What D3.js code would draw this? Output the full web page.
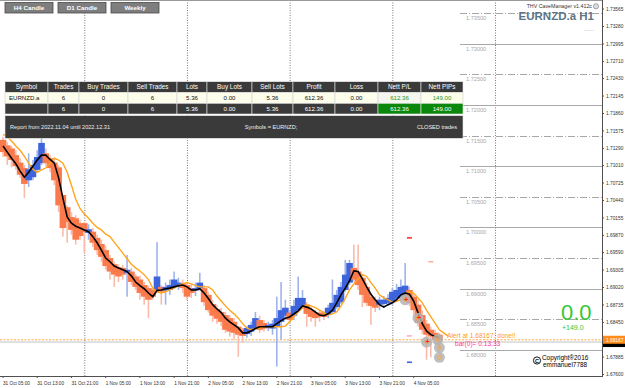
<!DOCTYPE html>
<html>
<head>
<meta charset="utf-8">
<script src="https://cdn.jsdelivr.net/npm/d3@7"></script>
<style>
body { margin: 0; background: #fff; }
svg { display: block; font-family: "Liberation Sans", Arial, sans-serif; }
</style>
</head>
<body>
<div id="wrapper"></div>
<script>
// H1 bars, bar 0 = 31 Oct 05:00
var haOpen = [1.7143,1.7134,1.7129,1.7118,1.7106,1.7097,1.7077,1.7082,1.7094,1.7105,
  1.7121,1.7113,1.7106,1.7098,1.7053,1.7033,1.7017,1.7015,1.7007,1.7007,
  1.6991,1.6993,1.6983,1.6973,1.6963,1.6950,1.6940,1.6935,1.6934,1.6926,
  1.6928,1.6920,1.6915,1.6906,1.6901,1.6898,1.6898,1.6903,1.6897,1.6898,
  1.6903,1.6903,1.6908,1.6906,1.6901,1.6897,1.6901,1.6901,1.6890,1.6875,
  1.6867,1.6862,1.6857,1.6852,1.6846,1.6838,1.6833,1.6826,1.6830,1.6836,
  1.6849,1.6844,1.6836,1.6835,1.6839,1.6846,1.6856,1.6861,1.6856,1.6865,
  1.6872,1.6874,1.6865,1.6861,1.6861,1.6861,1.6857,1.6862,1.6870,1.6878,
  1.6898,1.6910,1.6934,1.6928,1.6918,1.6903,1.6887,1.6882,1.6874,1.6875,
  1.6877,1.6878,1.6884,1.6887,1.6888,1.6898,1.6887,1.6874,1.6857,1.6843,
  1.6833,1.6828,1.6825];
var haClose = [1.7123,1.7116,1.7110,1.7100,1.7086,1.7071,1.7095,1.7102,1.7115,1.7138,
  1.7105,1.7097,1.7077,1.7036,1.6999,1.7009,1.6996,1.6980,1.6986,1.6993,
  1.6997,1.6975,1.6963,1.6952,1.6937,1.6928,1.6923,1.6920,1.6923,1.6931,
  1.6911,1.6903,1.6893,1.6887,1.6882,1.6887,1.6920,1.6895,1.6903,1.6906,
  1.6915,1.6910,1.6901,1.6887,1.6893,1.6901,1.6910,1.6878,1.6865,1.6856,
  1.6851,1.6846,1.6833,1.6830,1.6828,1.6825,1.6823,1.6836,1.6841,1.6852,
  1.6833,1.6835,1.6841,1.6843,1.6852,1.6865,1.6869,1.6849,1.6872,1.6885,
  1.6885,1.6859,1.6854,1.6852,1.6854,1.6854,1.6869,1.6877,1.6890,1.6903,
  1.6923,1.6942,1.6915,1.6906,1.6890,1.6877,1.6872,1.6869,1.6882,1.6882,
  1.6885,1.6895,1.6898,1.6903,1.6905,1.6877,1.6865,1.6844,1.6833,1.6825,
  1.6822,1.6817,1.6815];
var barHigh = [1.7148,1.7139,1.7133,1.7126,1.7113,1.7102,1.7121,1.7110,1.7126,1.7151,
  1.7129,1.7118,1.7113,1.7102,1.7053,1.7036,1.7025,1.7020,1.7012,1.7009,
  1.7005,1.6999,1.6988,1.6980,1.6970,1.6955,1.6944,1.6940,1.6939,1.6955,
  1.6934,1.6924,1.6921,1.6911,1.6905,1.6901,1.6976,1.6906,1.6910,1.6915,
  1.6928,1.6918,1.6915,1.6911,1.6908,1.6910,1.6926,1.6906,1.6895,1.6882,
  1.6874,1.6869,1.6862,1.6857,1.6852,1.6839,1.6836,1.6839,1.6846,1.6862,
  1.6856,1.6849,1.6846,1.6849,1.6887,1.6911,1.6882,1.6865,1.6882,1.6920,
  1.6898,1.6878,1.6870,1.6865,1.6865,1.6864,1.6874,1.6915,1.6898,1.6911,
  1.6947,1.6947,1.6972,1.6972,1.6923,1.6910,1.6893,1.6887,1.6887,1.6888,
  1.6891,1.6901,1.6908,1.6915,1.6942,1.6903,1.6891,1.6882,1.6865,1.6849,
  1.6838,1.6833,1.6828];
var barLow = [1.7115,1.7102,1.7098,1.7094,1.7081,1.7048,1.7066,1.7077,1.7089,1.7102,
  1.7100,1.7090,1.7069,1.7025,1.6985,1.6975,1.6988,1.6972,1.6980,1.6958,
  1.6980,1.6968,1.6955,1.6944,1.6931,1.6915,1.6903,1.6911,1.6915,1.6887,
  1.6906,1.6898,1.6882,1.6874,1.6852,1.6882,1.6895,1.6874,1.6874,1.6890,
  1.6900,1.6898,1.6893,1.6882,1.6885,1.6888,1.6897,1.6872,1.6861,1.6846,
  1.6843,1.6839,1.6828,1.6822,1.6817,1.6789,1.6812,1.6820,1.6823,1.6833,
  1.6828,1.6830,1.6831,1.6825,1.6773,1.6817,1.6849,1.6844,1.6849,1.6862,
  1.6867,1.6838,1.6846,1.6838,1.6846,1.6849,1.6852,1.6859,1.6867,1.6875,
  1.6895,1.6906,1.6911,1.6898,1.6870,1.6872,1.6841,1.6862,1.6865,1.6869,
  1.6872,1.6874,1.6878,1.6882,1.6885,1.6872,1.6857,1.6838,1.6826,1.6784,
  1.6788,1.6809,1.6797];
var fastMA = [1.7133,1.7123,1.7113,1.7104,1.7092,1.7082,1.7090,1.7100,1.7110,1.7118,
  1.7118,1.7111,1.7105,1.7081,1.7048,1.7017,1.7007,1.7002,1.6999,1.6996,
  1.6993,1.6985,1.6975,1.6963,1.6950,1.6944,1.6937,1.6934,1.6931,1.6928,
  1.6921,1.6911,1.6905,1.6900,1.6893,1.6887,1.6897,1.6898,1.6900,1.6901,
  1.6903,1.6905,1.6906,1.6903,1.6898,1.6898,1.6900,1.6893,1.6884,1.6874,
  1.6867,1.6861,1.6852,1.6846,1.6841,1.6836,1.6828,1.6828,1.6831,1.6835,
  1.6838,1.6838,1.6838,1.6838,1.6843,1.6848,1.6852,1.6854,1.6859,1.6864,
  1.6872,1.6870,1.6867,1.6862,1.6857,1.6856,1.6859,1.6865,1.6877,1.6890,
  1.6901,1.6913,1.6929,1.6928,1.6916,1.6903,1.6891,1.6882,1.6874,1.6870,
  1.6874,1.6877,1.6882,1.6890,1.6893,1.6891,1.6880,1.6861,1.6843,1.6831,
  1.6825,1.6822,1.6820];
var slowMA = [1.7152,1.7148,1.7141,1.7133,1.7126,1.7116,1.7105,1.7095,1.7090,1.7094,
  1.7097,1.7105,1.7113,1.7110,1.7105,1.7090,1.7069,1.7046,1.7031,1.7022,
  1.7015,1.7007,1.7000,1.6996,1.6989,1.6985,1.6976,1.6967,1.6958,1.6949,
  1.6940,1.6934,1.6929,1.6923,1.6915,1.6901,1.6895,1.6893,1.6895,1.6898,
  1.6901,1.6905,1.6908,1.6910,1.6908,1.6905,1.6903,1.6903,1.6903,1.6898,
  1.6888,1.6880,1.6872,1.6865,1.6859,1.6852,1.6843,1.6836,1.6833,1.6835,
  1.6836,1.6838,1.6838,1.6838,1.6838,1.6838,1.6839,1.6846,1.6854,1.6862,
  1.6869,1.6874,1.6872,1.6869,1.6865,1.6861,1.6857,1.6859,1.6862,1.6872,
  1.6884,1.6898,1.6908,1.6916,1.6923,1.6920,1.6910,1.6901,1.6890,1.6885,
  1.6882,1.6878,1.6880,1.6882,1.6888,1.6895,1.6893,1.6885,1.6877,1.6865,
  1.6854,1.6844,1.6833,1.6828,1.6823];

// trades / markers
var tradeBar = [94, 97, 99, 101.6, 102, 102];
var tradePrice = [1.6882, 1.6852, 1.6813, 1.6817, 1.6804, 1.6788];
var markBar = [95, 100, 95, 95];
var markPrice = [1.6983, 1.6944, 1.6823, 1.6780];
var markColor = ['#ff3030', '#ffb0a0', '#ffb0b8', '#4060e0'];

// axes
var timeLabels = ['31 Oct 05:00','31 Oct 13:00','31 Oct 21:00','1 Nov 05:00','1 Nov 13:00','1 Nov 21:00',
  '2 Nov 05:00','2 Nov 13:00','2 Nov 21:00','3 Nov 05:00','3 Nov 13:00','3 Nov 21:00','4 Nov 05:00'];
var daySeparators = [19, 43, 67, 91, 115];
var priceTicks = [1.73565,1.73280,1.72995,1.72710,1.72430,1.72145,1.71860,1.71575,1.71290,1.71010,
  1.70725,1.70440,1.70155,1.69870,1.69590,1.69305,1.69020,1.68735,1.68450,1.68165,1.67885,1.67600];
var levelPrices = [1.735,1.730,1.725,1.720,1.715,1.710,1.705,1.700,1.695,1.690,1.685,1.680];
var alertPrice = 1.68167, bidPrice = 1.68130;

// table
var columns = ['Symbol','Trades','Buy Trades','Sell Trades','Lots','Buy Lots','Sell Lots','Profit','Loss','Nett P/L','Nett PIPs'];
var row1 = ['EURNZD.a','6','0','6','5.36','0.00','5.36','612.36','0.00','612.36','149.00'];
var row2 = ['','6','0','6','5.36','0.00','5.36','612.36','0.00','612.36','149.00'];
var buttons = ['H4 Candle','D1 Candle','Weekly'];

var W = 625, H = 388, plotRight = 602, plotBottom = 376;
var svg = d3.select('#wrapper').append('svg').attr('width', W).attr('height', H);

var x = d3.scaleLinear().domain([0, 115]).range([3, 495]);
var y = d3.scaleLinear().domain([1.735, 1.68]).range([13, 350]);

svg.append('clipPath').attr('id', 'plot').append('rect')
   .attr('x', 0).attr('y', 0).attr('width', plotRight).attr('height', plotBottom);

var plot = svg.append('g').attr('clip-path', 'url(#plot)');

// frame top
svg.append('line').attr('x1', 0).attr('x2', plotRight).attr('y1', 0.5).attr('y2', 0.5)
   .attr('stroke', '#9a9a9a');

// day separators
plot.selectAll('.sep').data(daySeparators).enter().append('line')
    .attr('x1', function(d) { return x(d) + 0.5; })
    .attr('x2', function(d) { return x(d) + 0.5; })
    .attr('y1', 0).attr('y2', plotBottom)
    .attr('stroke', '#7a7a7a').attr('stroke-dasharray', '1,1.5');

// price levels on the right
var levelX = 460;
plot.selectAll('.lvl').data(levelPrices).enter().append('line')
    .attr('x1', levelX).attr('x2', plotRight)
    .attr('y1', function(d) { return Math.round(y(d)) + 0.5; })
    .attr('y2', function(d) { return Math.round(y(d)) + 0.5; })
    .attr('stroke', '#a8a8a8')
    .attr('stroke-dasharray', function(d, i) { return i % 2 === 0 ? '7,2,1,2' : null; });
plot.selectAll('.lvlText').data(levelPrices).enter().append('text')
    .attr('x', levelX + 6).attr('y', function(d) { return y(d) + 7; })
    .attr('font-size', 5.6).attr('fill', '#a8a8a8')
    .text(function(d) { return d.toFixed(5); });

// bid and alert lines
plot.append('line').attr('x1', 0).attr('x2', plotRight)
    .attr('y1', y(bidPrice)).attr('y2', y(bidPrice))
    .attr('stroke', '#c4c4c4').attr('stroke-width', 1);
plot.append('line').attr('x1', 0).attr('x2', plotRight)
    .attr('y1', y(alertPrice)).attr('y2', y(alertPrice))
    .attr('stroke', '#ffa030').attr('stroke-width', 0.9).attr('stroke-dasharray', '2,1.5');

var bars = d3.range(haOpen.length);
var up = function(i) { return haClose[i] >= haOpen[i]; };

// wicks of the real candles
plot.selectAll('.wick').data(bars).enter().append('rect')
    .attr('x', function(i) { return x(i) - 0.8; })
    .attr('width', 1.6)
    .attr('y', function(i) { return y(barHigh[i]); })
    .attr('height', function(i) { return y(barLow[i]) - y(barHigh[i]); })
    .attr('fill', function(i) { return up(i) ? '#9fb4ee' : '#f9bcaa'; });

// smoothed bodies
plot.selectAll('.body').data(bars).enter().append('rect')
    .attr('x', function(i) { return x(i) - 3.3; })
    .attr('width', 6.6)
    .attr('y', function(i) { return y(Math.max(haOpen[i], haClose[i])); })
    .attr('height', function(i) { return Math.max(1, Math.abs(y(haOpen[i]) - y(haClose[i]))); })
    .attr('fill', function(i) { return up(i) ? '#3d64dc' : '#fb7a4c'; });

var line = d3.line().x(function(d, i) { return x(i); }).y(function(d) { return y(d); });
plot.append('path').datum(slowMA).attr('d', line)
    .attr('fill', 'none').attr('stroke', '#ffa51e').attr('stroke-width', 1.4);
plot.append('path').datum(fastMA).attr('d', line)
    .attr('fill', 'none').attr('stroke', '#000').attr('stroke-width', 1.6);

// trade markers
var tr = d3.range(tradeBar.length);
plot.selectAll('.trade').data(tr).enter().append('circle')
    .attr('cx', function(i) { return x(tradeBar[i]); })
    .attr('cy', function(i) { return y(tradePrice[i]); })
    .attr('r', 5.5).attr('fill', '#b4b4b4').attr('fill-opacity', 0.85);
plot.selectAll('.tradeIn').data(tr).enter().append('circle')
    .attr('cx', function(i) { return x(tradeBar[i]); })
    .attr('cy', function(i) { return y(tradePrice[i]); })
    .attr('r', 1.8).attr('fill', 'none').attr('stroke', '#ffa030').attr('stroke-width', 0.8);
plot.selectAll('.cross').data([0, 1, 2]).enter().append('text')
    .attr('x', function(i) { return x(tradeBar[i]) + 1; })
    .attr('y', function(i) { return y(tradePrice[i]) + 2; })
    .attr('font-size', 7).attr('font-weight', 'bold').attr('fill', '#ff2020')
    .attr('text-anchor', 'middle').text('+');
plot.selectAll('.mark').data(d3.range(markBar.length)).enter().append('rect')
    .attr('x', function(i) { return x(markBar[i]) - 2.5; })
    .attr('y', function(i) { return y(markPrice[i]) - 0.8; })
    .attr('width', 5).attr('height', 1.6)
    .attr('fill', function(i) { return markColor[i]; });

// alert texts
svg.append('text').attr('x', 447).attr('y', y(alertPrice) - 1.5)
   .attr('font-size', 6.6).attr('fill', '#ff9a2a').text('Alert at 1.68167: done!!');
svg.append('text').attr('x', 455).attr('y', y(alertPrice) + 6)
   .attr('font-size', 6.6).attr('fill', '#ff3399').text('bar(0)=  0:13:33');

// right price axis
svg.append('line').attr('x1', plotRight + 0.5).attr('x2', plotRight + 0.5)
   .attr('y1', 0).attr('y2', plotBottom + 1).attr('stroke', '#505050');
var yAxis = svg.append('g').selectAll('.ptick').data(priceTicks).enter().append('g')
    .attr('transform', function(d) { return 'translate(' + plotRight + ',' + y(d) + ')'; });
yAxis.append('line').attr('x1', 0).attr('x2', 2).attr('stroke', '#505050');
yAxis.append('text').attr('x', 4).attr('y', 1.7).attr('font-size', 4.8).attr('fill', '#303030')
     .text(function(d) { return d.toFixed(5); });

// price labels
svg.append('rect').attr('x', plotRight + 1).attr('y', y(bidPrice) - 2).attr('width', 22).attr('height', 7)
   .attr('fill', '#000');
svg.append('rect').attr('x', plotRight + 1).attr('y', y(alertPrice) - 4).attr('width', 22).attr('height', 8)
   .attr('fill', '#ff8c1a');
svg.append('text').attr('x', plotRight + 4).attr('y', y(alertPrice) + 1.8).attr('font-size', 4.8)
   .attr('fill', '#fff').text(alertPrice.toFixed(5));

// bottom time axis
svg.append('line').attr('x1', 0).attr('x2', plotRight + 1).attr('y1', plotBottom + 0.5).attr('y2', plotBottom + 0.5)
   .attr('stroke', '#505050');
var xAxis = svg.append('g').selectAll('.xt').data(timeLabels).enter().append('g')
    .attr('transform', function(d, i) { return 'translate(' + x(i * 8) + ',' + plotBottom + ')'; });
xAxis.append('line').attr('y1', 0).attr('y2', 2).attr('stroke', '#505050');
xAxis.append('text').attr('x', 0).attr('y', 8.5).attr('font-size', 4.7).attr('fill', '#303030')
     .text(function(d) { return d; });

// buttons
var btn = svg.selectAll('.btn').data(buttons).enter().append('g')
    .attr('transform', function(d, i) { return 'translate(' + (5 + i * 53) + ',2.5)'; });
btn.append('rect').attr('width', 48).attr('height', 10.5)
   .attr('fill', '#7e7e7e').attr('stroke', '#4a4a4a').attr('stroke-width', 0.8);
btn.append('text').attr('x', 24).attr('y', 7.6).attr('text-anchor', 'middle')
   .attr('font-size', 6.2).attr('font-weight', 'bold').attr('fill', '#fff')
   .text(function(d) { return d; });

// top right labels
svg.append('text').attr('x', 592).attr('y', 8).attr('text-anchor', 'end')
   .attr('font-size', 5.3).attr('fill', '#333').text('THV CaveManager v1.412c');
svg.append('circle').attr('cx', 596).attr('cy', 6.3).attr('r', 2.6)
   .attr('fill', '#ddd').attr('stroke', '#777').attr('stroke-width', 0.6);
svg.append('text').attr('x', 594).attr('y', 19.5).attr('text-anchor', 'end')
   .attr('font-size', 11.5).attr('font-weight', 'bold').attr('fill', '#5d7487').text('EURNZD.a H1');
svg.append('text').attr('x', 594).attr('y', 31).attr('text-anchor', 'end')
   .attr('font-size', 6).attr('fill', '#7f8fb0').text('......');

// result
svg.append('text').attr('x', 561).attr('y', 320).attr('font-size', 22).attr('fill', '#35c735').text('0.0');
svg.append('text').attr('x', 562).attr('y', 330).attr('font-size', 7).attr('fill', '#35c735').text('+149.0');

// copyright
svg.append('circle').attr('cx', 537).attr('cy', 360.5).attr('r', 3.6)
   .attr('fill', '#fff').attr('stroke', '#000').attr('stroke-width', 0.9);
svg.append('text').attr('x', 537).attr('y', 362.6).attr('text-anchor', 'middle')
   .attr('font-size', 5.5).attr('font-weight', 'bold').text('C');
svg.append('text').attr('x', 542).attr('y', 359.5).attr('font-size', 6.4).attr('fill', '#000').text('Copyright\u00AE2016');
svg.append('text').attr('x', 543).attr('y', 366.5).attr('font-size', 6.4).attr('fill', '#000').text('emmanuel7788');

// report table
var colEdges = [5, 48, 79, 128, 177, 207, 252, 293, 335, 378, 421, 463];
var rowTop = [81.7, 92.3, 103.3], rowH = [10.6, 11, 10.7];
var tableRows = [columns, row1, row2];
var tg = svg.append('g');
tableRows.forEach(function(row, r) {
  var cells = tg.selectAll('.c' + r).data(row).enter().append('g');
  cells.append('rect')
       .attr('x', function(d, i) { return colEdges[i]; })
       .attr('y', rowTop[r])
       .attr('width', function(d, i) { return colEdges[i + 1] - colEdges[i]; })
       .attr('height', rowH[r])
       .attr('fill', function(d, i) {
         if (r === 1) return i === 9 ? '#f6f6f0' : '#fdfdec';
         if (r === 2 && i >= 9) return '#0b870b';
         return '#3a3a3a';
       })
       .attr('stroke', r === 1 ? '#cfcfcf' : '#e8e8e8').attr('stroke-width', 0.6);
  cells.append('text')
       .attr('x', function(d, i) {
         return (r === 1 && i === 0) ? colEdges[0] + 4 : (colEdges[i] + colEdges[i + 1]) / 2;
       })
       .attr('y', rowTop[r] + rowH[r] / 2 + 2.2)
       .attr('text-anchor', function(d, i) { return (r === 1 && i === 0) ? 'start' : 'middle'; })
       .attr('font-size', r === 0 ? 6.4 : 6.1)
       .attr('fill', function(d, i) {
         if (r === 1) return i >= 9 ? '#1f9a1f' : '#111';
         return '#fff';
       })
       .text(function(d) { return d; });
});
tg.append('rect').attr('x', 5).attr('y', 115.7).attr('width', 458).attr('height', 22.6)
  .attr('fill', '#3a3a3a').attr('stroke', '#e8e8e8').attr('stroke-width', 0.6);
tg.append('text').attr('x', 10).attr('y', 129).attr('font-size', 5.6).attr('fill', '#eee')
  .text('Report from 2022.11.04 until 2022.12.31');
tg.append('text').attr('x', 271).attr('y', 129).attr('text-anchor', 'middle').attr('font-size', 5.6)
  .attr('fill', '#eee').text('Symbols = EURNZD;');
tg.append('text').attr('x', 457).attr('y', 129).attr('text-anchor', 'end').attr('font-size', 5.6)
  .attr('fill', '#eee').text('CLOSED trades');
</script>
</body>
</html>
